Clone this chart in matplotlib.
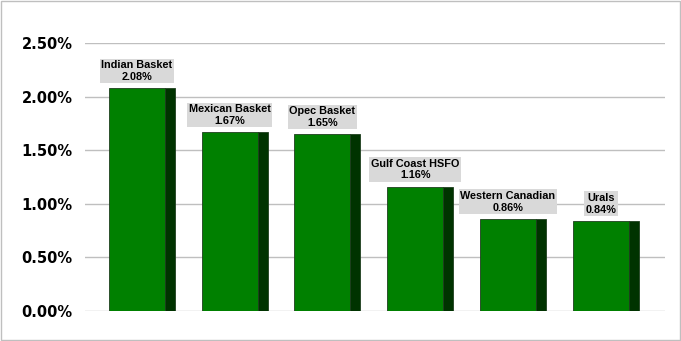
import matplotlib
matplotlib.use("Agg")
import matplotlib.pyplot as plt
from matplotlib.ticker import FuncFormatter

# ---------------------------------------------------------------- data
categories = ["Indian Basket", "Mexican Basket", "Opec Basket",
              "Gulf Coast HSFO", "Western Canadian", "Urals"]
values_pct = [2.08, 1.67, 1.65, 1.16, 0.86, 0.84]
yticks_pct = [0.0, 0.5, 1.0, 1.5, 2.0, 2.5]

FRONT = "#008000"
SIDE = "#003300"
GRID = "#bfbfbf"

fig = plt.figure(figsize=(6.81, 3.41), dpi=100)
fig.patch.set_facecolor("white")
ax = fig.add_axes([85 / 681, 1 - 311 / 341, 580 / 681, 268 / 341])

x = list(range(len(categories)))
front_w, side_w = 0.604, 0.108
front_x = [i - 0.356 + front_w / 2 for i in x]
side_x = [i + 0.248 + side_w / 2 for i in x]

ax.bar(front_x, values_pct, width=front_w, color=FRONT,
       edgecolor="#1f3f1f", linewidth=0.6, zorder=3)
ax.bar(side_x, values_pct, width=side_w, color=SIDE,
       edgecolor="#1f3f1f", linewidth=0.6, zorder=3)

for xc, v, name in zip(front_x, values_pct, categories):
    ax.annotate(f"{name}\n{v:.2f}%", xy=(xc, v), xytext=(0, 4.5),
                textcoords="offset points", ha="center", va="bottom",
                fontsize=7.8, fontweight="bold", family="Liberation Sans",
                linespacing=1.2,
                bbox=dict(boxstyle="square,pad=0.15", fc="#d9d9d9", ec="none"),
                zorder=4)

ax.set_xlim(-0.615, 5.64)
ax.set_ylim(0, 2.5)
ax.set_yticks(yticks_pct)
ax.yaxis.set_major_formatter(FuncFormatter(lambda v, _: f"{v:.2f}%"))
ax.set_xticks([])
ax.grid(axis="y", color=GRID, linewidth=1.0, zorder=0)
ax.tick_params(axis="y", length=0, pad=9, labelsize=10.5)
for lab in ax.get_yticklabels():
    lab.set_fontweight("bold")
for s in ax.spines.values():
    s.set_visible(False)

# thin grey frame around the whole picture
fig.add_artist(plt.Rectangle((0.001, 0.002), 0.997, 0.995,
                             transform=fig.transFigure, fill=False,
                             ec="#bfbfbf", lw=1.0))

fig.savefig("out.png", dpi=100)
